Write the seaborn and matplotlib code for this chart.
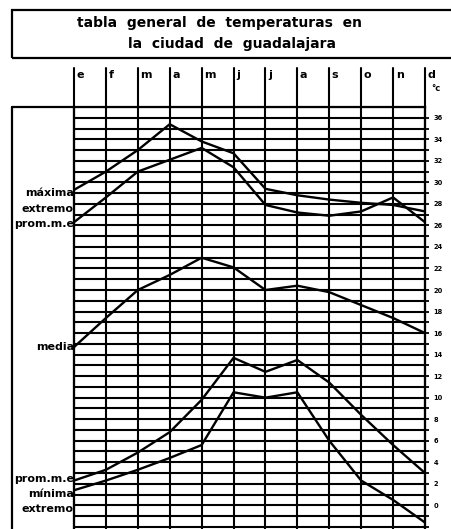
import numpy as np
import pandas as pd
import seaborn as sns
import matplotlib.pyplot as plt
from matplotlib.lines import Line2D
from matplotlib.patches import Rectangle

# datos (grados C)
meses = ["e", "f", "m", "a", "m", "j", "j", "a", "s", "o", "n", "d"]
maxima_extremo = [29.3, 31.0, 33.0, 35.4, 33.8, 32.7, 29.4, 28.8, 28.4, 28.1, 27.9, 27.3]
maxima_prom = [26.3, 28.6, 31.0, 32.1, 33.2, 31.4, 27.9, 27.2, 26.9, 27.3, 28.6, 26.3]
media = [14.7, 17.4, 20.0, 21.4, 23.0, 22.1, 20.0, 20.4, 19.8, 18.6, 17.4, 16.0]
minima_prom = [2.3, 3.3, 4.9, 6.8, 9.8, 13.7, 12.4, 13.5, 11.4, 8.4, 5.6, 3.0]
minima_extremo = [1.4, 2.3, 3.3, 4.4, 5.6, 10.5, 10.0, 10.5, 6.0, 2.3, 0.5, -1.6]
etiquetas_y = list(range(0, 37, 2))

series = {
    "maxima extremo": maxima_extremo,
    "maxima prom": maxima_prom,
    "media": media,
    "minima prom": minima_prom,
    "minima extremo": minima_extremo,
}
rows = []
for nombre, valores in series.items():
    for i, v in enumerate(valores):
        rows.append({"serie": nombre, "mes": i, "temp": v})
df = pd.DataFrame(rows)

W, H = 452, 529
sns.set_style("white")
plt.rcParams["font.family"] = ["DejaVu Sans"]
plt.rcParams["text.color"] = "black"
plt.rcParams["ytick.color"] = "black"
fig = plt.figure(figsize=(W / 100, H / 100), dpi=100)

def fx(x):
    return x / W

def fy(y):
    return 1 - y / H

# area de la reticula
left, right, top, bottom = 74, 425, 107, 529
ax = fig.add_axes([fx(left), 0, fx(right) - fx(left), fy(top)])
ax.set_xlim(0, 11)
ax.set_ylim(-2.2, 37.0)

for t in range(-2, 38):
    ax.axhline(t, color="black", lw=1.5, zorder=1)
top_frac = (bottom - 68) / (bottom - top)
for i in range(12):
    ax.axvline(i, ymin=0, ymax=top_frac, color="black", lw=1.5, clip_on=False, zorder=1)
    ax.text(i + 0.08, 1.075, meses[i], transform=ax.get_xaxis_transform(),
            ha="left", va="center", fontsize=8, fontweight="bold")

sns.lineplot(data=df, x="mes", y="temp", hue="serie",
             palette={k: "black" for k in series}, legend=False,
             lw=1.7, ax=ax, zorder=3)

ax.set_xlabel("")
ax.set_ylabel("")
ax.set_xticks([])
ax.yaxis.tick_right()
ax.set_yticks(etiquetas_y)
ax.set_yticklabels([str(v) for v in etiquetas_y], fontsize=4.8, fontweight="bold")
ax.set_yticks(range(-2, 37), minor=True)
ax.tick_params(axis="y", which="both", right=True, length=3, width=1.3, pad=3,
               colors="black")
for s in ["left", "right", "top"]:
    ax.spines[s].set_linewidth(1.6)
    ax.spines[s].set_color("black")
ax.spines["bottom"].set_visible(False)

ax.text(11.2, 1.045, "°c", transform=ax.get_xaxis_transform(),
        ha="left", va="center", fontsize=6, fontweight="bold")

# marco del titulo
fig.add_artist(Rectangle((fx(12), fy(58)), fx(460) - fx(12), fy(10) - fy(58),
                         transform=fig.transFigure, fill=False, lw=1.6, color="black"))
fig.text(fx(220), fy(23), "tabla  general  de  temperaturas  en",
         ha="center", va="center", fontsize=10, fontweight="bold")
fig.text(fx(232), fy(44), "la  ciudad  de  guadalajara",
         ha="center", va="center", fontsize=10, fontweight="bold")

# marco izquierdo
fig.add_artist(Line2D([fx(12), fx(12)], [fy(107), 0], transform=fig.transFigure,
                      color="black", lw=1.6))
fig.add_artist(Line2D([fx(12), fx(74)], [fy(107), fy(107)], transform=fig.transFigure,
                      color="black", lw=1.6))

etiquetas = [("máxima", 193), ("extremo", 209), ("prom.m.e", 224), ("media", 347),
             ("prom.m.e", 479), ("mínima", 494), ("extremo", 509)]
for txt, y in etiquetas:
    fig.text(fx(74), fy(y), txt, ha="right", va="center", fontsize=8, fontweight="bold")

fig.savefig("out.png", dpi=100)
